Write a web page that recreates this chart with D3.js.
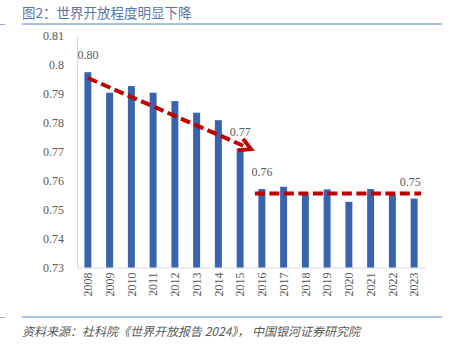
<!DOCTYPE html>
<html><head><meta charset="utf-8">
<script src="https://cdn.jsdelivr.net/npm/d3@7"></script>
<style>
html,body{margin:0;padding:0;background:#fff;}
svg{display:block;}
.serif{font-family:"Liberation Serif","Times New Roman",serif;}
</style></head>
<body>
<svg id="c" width="451" height="351"></svg>
<script>
const categories = ["2008","2009","2010","2011","2012","2013","2014","2015","2016","2017","2018","2019","2020","2021","2022","2023"];
const values = [0.7975,0.7904,0.7927,0.7904,0.7875,0.7835,0.7809,0.7711,0.7571,0.7579,0.7552,0.7570,0.7527,0.7571,0.7552,0.7538];
const yTicks = [0.73,0.74,0.75,0.76,0.77,0.78,0.79,0.8,0.81];
const yTickLabels = ["0.73","0.74","0.75","0.76","0.77","0.78","0.79","0.8","0.81"];
const dataLabelYears = ["2008","2015","2016","2023"];
const dataLabelTexts = ["0.80","0.77","0.76","0.75"];
const trendDownYears = ["2008","2015"];
const trendDownValues = [0.7955,0.7709];
const trendFlatYears = ["2016","2023"];
const trendFlatValues = [0.7556,0.7556];
const titleText = "图2：世界开放程度明显下降";
const sourceText = "资料来源：社科院《世界开放报告 2024》， 中国银河证券研究院";

const svg = d3.select("#c");
const cjk = "'Noto Sans CJK SC','Noto Sans',sans-serif";

const L = 77, R = 425, T = 36, B = 267.5;
const x = d3.scaleBand().domain(categories).range([L, R]).paddingInner(0.68).paddingOuter(0.34);
const y = d3.scaleLinear().domain([0.73, 0.81]).range([B, T]);

// header / footer rules
svg.append("line").attr("x1",22).attr("x2",442).attr("y1",24).attr("y2",24).attr("stroke","#8eaadb").attr("stroke-width",1.5);
svg.append("line").attr("x1",0).attr("x2",5).attr("y1",24.5).attr("y2",24.5).attr("stroke","#8eaadb").attr("stroke-width",1);
svg.append("line").attr("x1",22).attr("x2",442).attr("y1",317).attr("y2",317).attr("stroke","#8eaadb").attr("stroke-width",1.5);
svg.append("line").attr("x1",0).attr("x2",5).attr("y1",317.5).attr("y2",317.5).attr("stroke","#8eaadb").attr("stroke-width",1);

svg.append("text").attr("x",22).attr("y",18).attr("fill","#5a76ad")
  .style("font-family",cjk).attr("font-size",13.5).text(titleText);
svg.append("text").attr("x",22).attr("y",336).attr("fill","#595959")
  .style("font-family",cjk).attr("font-size",12).attr("font-style","italic").text(sourceText);

// y axis
const yAxis = d3.axisLeft(y).tickValues(yTicks).tickFormat((d,i)=>yTickLabels[i]).tickSize(0).tickPadding(13);
const gy = svg.append("g").attr("transform",`translate(${L},0)`).call(yAxis);
gy.attr("font-family",null);
gy.select(".domain").attr("stroke","#d9d9d9");
gy.selectAll("text").attr("class","serif").attr("font-size",12).attr("fill","#595959");

// x axis
const xAxis = d3.axisBottom(x).tickSize(0).tickPadding(4);
const gx = svg.append("g").attr("transform",`translate(0,${B})`).call(xAxis);
gx.attr("font-family",null);
gx.select(".domain").attr("stroke","#d9d9d9");
gx.selectAll("text").attr("class","serif").attr("font-size",12).attr("fill","#595959")
  .attr("transform","rotate(-90)").attr("text-anchor","end").attr("dy","0.35em").attr("x",-5).attr("y",0);

// bars
svg.append("g").selectAll("rect").data(categories).join("rect")
  .attr("x",d=>x(d)).attr("width",x.bandwidth())
  .attr("y",(d,i)=>y(values[i])).attr("height",(d,i)=>B - y(values[i]))
  .attr("fill","#3a63ad");

// data labels
svg.append("g").selectAll("text").data(dataLabelYears).join("text")
  .attr("class","serif")
  .attr("x",(d,i)=>x(d)+x.bandwidth()/2 - (i===dataLabelYears.length-1 ? 4 : 0))
  .attr("y",d=>y(values[categories.indexOf(d)]) - 13)
  .attr("text-anchor","middle").attr("font-size",12).attr("fill","#595959")
  .text((d,i)=>dataLabelTexts[i]);

// trend lines
const red = "#c00000";
const x1 = x(trendDownYears[0]) + x.bandwidth()/2;
const x2 = x(trendDownYears[1]) + x.step()*0.5 + x.bandwidth()/2;
const y1 = y(trendDownValues[0]), y2 = y(trendDownValues[1]);
const ang = Math.atan2(y2-y1, x2-x1);
const backX = x2 - 3*Math.cos(ang), backY = y2 - 3*Math.sin(ang);
svg.append("line").attr("x1",x1).attr("y1",y1).attr("x2",backX).attr("y2",backY)
  .attr("stroke",red).attr("stroke-width",4).attr("stroke-dasharray","10,4.5");
const ah = 13, aw = 0.5;
const p1 = [x2 - ah*Math.cos(ang-aw), y2 - ah*Math.sin(ang-aw)];
const p2 = [x2 - ah*Math.cos(ang+aw), y2 - ah*Math.sin(ang+aw)];
svg.append("path").attr("d",`M${p1[0]},${p1[1]}L${x2},${y2}L${p2[0]},${p2[1]}`)
  .attr("fill","none").attr("stroke",red).attr("stroke-width",4).attr("stroke-linejoin","miter");

const fx1 = x(trendFlatYears[0]) + x.bandwidth()/2 - 7;
const fx2 = x(trendFlatYears[1]) + x.bandwidth()/2 + 7;
svg.append("line").attr("x1",fx1).attr("x2",fx2).attr("y1",y(trendFlatValues[0])).attr("y2",y(trendFlatValues[1]))
  .attr("stroke",red).attr("stroke-width",4).attr("stroke-dasharray","10,4.5");
</script>
</body></html>
